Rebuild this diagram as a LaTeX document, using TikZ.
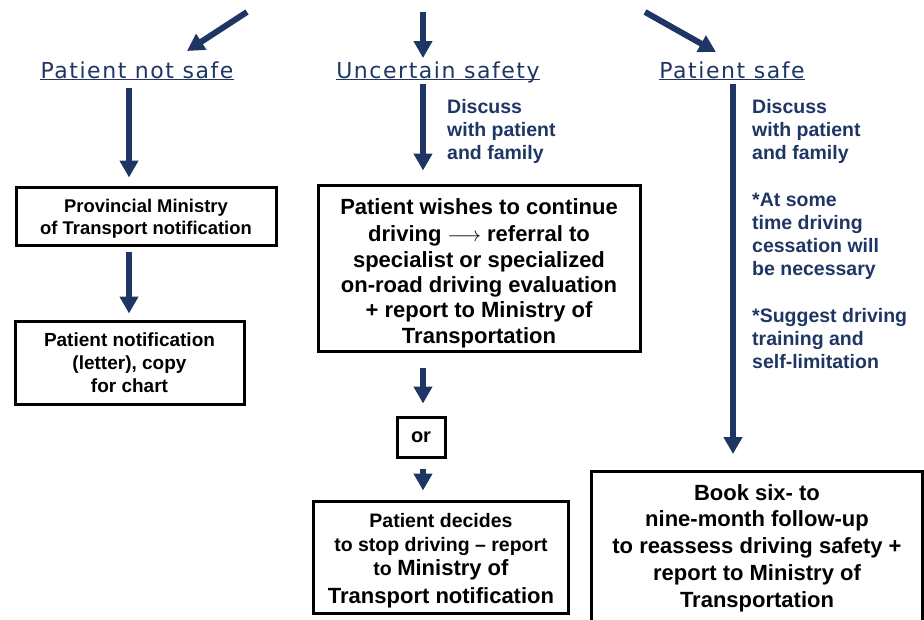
\documentclass[tikz,border=0pt]{standalone}
\usepackage{fontspec}
\setmainfont{Liberation Sans}
\newfontfamily\headfont[LetterSpace=7]{DejaVu Sans}
\usetikzlibrary{arrows.meta}
\definecolor{navy}{RGB}{31,54,100}
\begin{document}
\begin{tikzpicture}[x=1pt,y=-1pt,
 arr/.style={navy, line width=6pt, -{Triangle[width=18pt,length=17pt]}},
 box/.style={draw=black, line width=3pt, align=center, inner sep=0pt},
 head/.style={navy, inner sep=0pt, anchor=base, font=\headfont\fontsize{22}{26}\selectfont},
 note/.style={navy, inner sep=0pt, anchor=north west, align=left, font=\bfseries\fontsize{19.5}{23.2}\selectfont},
 uline/.style={navy, line width=1.3pt}]
\useasboundingbox (0,0) rectangle (924,619);

% headings
\node[head] (hns) at (137,78) {Patient not safe};
\node[head] (hun) at (438,78) {Uncertain safety};
\node[head] (hs) at (732,78) {Patient safe};
\foreach \h in {hns,hun,hs}{
  \draw[uline] ([yshift=-1.5pt]\h.base west) -- ([yshift=-1.5pt]\h.base east);
}

% top arrows
\coordinate (t1a) at (247,12); \coordinate (t1b) at (187,51);
\coordinate (t2a) at (423,12); \coordinate (t2b) at (423,58);
\coordinate (t3a) at (645,12); \coordinate (t3b) at (716,52);
\draw[arr] (t1a) -- (t1b);
\draw[arr] (t2a) -- (t2b);
\draw[arr] (t3a) -- (t3b);

% boxes
\node[box, minimum width=260pt, minimum height=58pt, font=\bfseries\fontsize{18.4}{22}\selectfont] (b1) at (146,216)
  {\rule{0pt}{19.5pt}Provincial Ministry\\of Transport notification};
\node[box, minimum width=229pt, minimum height=83pt, font=\bfseries\fontsize{19}{23}\selectfont] (b2) at (129.5,362.5)
  {Patient notification\\(letter), copy\\for chart};
\node[box, minimum width=322pt, minimum height=166pt, font=\bfseries\fontsize{22}{25.4}\selectfont] (big) at (479,268)
  {\rule{0pt}{26pt}Patient wishes to continue\\[2pt]driving $\longrightarrow$ referral to\\specialist or specialized\\on-road driving evaluation\\+ report to Ministry of\\Transportation};
\node[box, minimum width=48pt, minimum height=40pt, font=\bfseries\fontsize{20}{24}\selectfont] (or) at (421,437) {or};
\node[box, minimum width=255pt, minimum height=112pt, font=\bfseries\fontsize{19.5}{24}\selectfont] (dec) at (441,557)
  {\rule{0pt}{22pt}Patient decides\\to stop driving – report\\to {\fontsize{22}{24}\selectfont Ministry of}\\[4pt]{\fontsize{22}{24}\selectfont Transport notification}};
\node[box, minimum width=331pt, minimum height=153pt, font=\bfseries\fontsize{22}{26.75}\selectfont] (book) at (757,548)
  {Book six- to\\nine-month follow-up\\to reassess driving safety +\\report to Ministry of\\Transportation};

% side notes
\node[note] (n1) at (447,99) {Discuss\\with patient\\and family};
\node[note] (n2) at (752,99) {Discuss\\with patient\\and family\\[23.4pt]*At some\\time driving\\cessation will\\be necessary\\[23.4pt]*Suggest driving\\training and\\self-limitation};

% vertical arrows
\coordinate (c1) at (129,88);
\coordinate (c2) at (423,84);
\coordinate (c3) at (733,84);
\draw[arr, shorten >=8pt] (c1) -- (c1 |- b1.north);
\draw[arr, shorten >=13pt] (c2) -- (c2 |- big.north);
\draw[arr, shorten >=16pt] (c3) -- (c3 |- book.north);
\draw[arr, shorten <=5pt, shorten >=6pt] (c1 |- b1.south) -- (c1 |- b2.north);
\draw[arr, shorten <=15pt, shorten >=12pt] (c2 |- big.south) -- (c2 |- or.north);
\draw[arr, shorten <=10pt, shorten >=9pt] (c2 |- or.south) -- (c2 |- dec.north);
\end{tikzpicture}
\end{document}
